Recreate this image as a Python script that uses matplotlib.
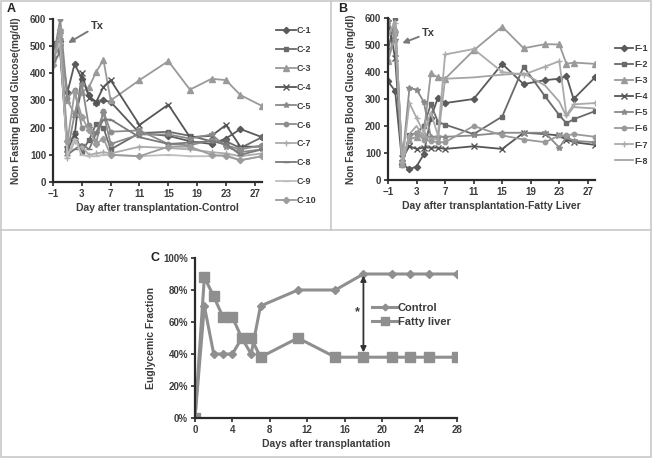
import numpy as np
import matplotlib
matplotlib.use("Agg")
import matplotlib.pyplot as plt
from matplotlib.lines import Line2D
from matplotlib.patches import Rectangle

plt.rcParams["font.family"] = ["Liberation Sans", "DejaVu Sans"]
plt.rcParams["font.weight"] = "bold"

TXT = "#3c3c3c"
AXC = "#2a2a2a"

# ---- panel A: control grafts ----
days_c = [-1, 0, 1, 2, 3, 4, 5, 6, 7, 11, 15, 18, 21, 23, 25, 28]
ctrl_names = ["C-1", "C-2", "C-3", "C-4", "C-5", "C-6", "C-7", "C-8", "C-9", "C-10"]
c1 = [500, 520, 330, 435, 380, 320, 290, 300, 295, 180, 170, 150, 140, 160, 195, 165]
c2 = [510, 480, 125, 180, 110, 155, 215, 200, 120, 180, 185, 170, 150, 150, 125, 165]
c3 = [470, 560, 300, 250, 330, 350, 405, 450, 300, 375, 445, 340, 380, 375, 320, 280]
c4 = [490, 520, 120, 170, 400, 310, 295, 350, 375, 210, 285, 165, 170, 210, 130, 130]
c5 = [460, 500, 110, 250, 360, 200, 180, 255, 140, 175, 175, 160, 175, 130, 110, 120]
c6 = [450, 600, 310, 340, 200, 210, 145, 260, 185, 190, 140, 135, 155, 135, 120, 135]
c7 = [440, 540, 90, 150, 130, 100, 105, 110, 105, 130, 125, 120, 110, 105, 95, 105]
c8 = [430, 480, 100, 120, 140, 120, 180, 230, 230, 165, 140, 145, 150, 140, 100, 120]
c9 = [470, 510, 95, 160, 100, 95, 95, 100, 100, 95, 100, 95, 95, 100, 80, 95]
c10 = [430, 560, 150, 330, 240, 190, 140, 160, 100, 95, 130, 130, 100, 95, 80, 95]
ctrl_vals = [c1, c2, c3, c4, c5, c6, c7, c8, c9, c10]
ctrl_colors = ["#5a5a5a", "#6a6a6a", "#9a9a9a", "#555555", "#8a8a8a",
               "#8c8c8c", "#ababab", "#7a7a7a", "#bdbdbd", "#9c9c9c"]
ctrl_markers = ["D", "s", "^", "x", "*", "o", "+", "_", "_", "D"]

# ---- panel B: fatty liver grafts ----
days_f = [-1, 0, 1, 2, 3, 4, 5, 6, 7, 11, 15, 18, 21, 23, 24, 25, 28]
fat_names = ["F-1", "F-2", "F-3", "F-4", "F-5", "F-6", "F-7", "F-8"]
f1 = [365, 330, 60, 40, 50, 95, 230, 305, 285, 300, 430, 355, 370, 375, 385, 300, 380]
f2 = [480, 600, 60, 165, 175, 200, 280, 215, 205, 170, 235, 420, 310, 240, 210, 225, 255]
f3 = [440, 560, 60, 150, 160, 170, 395, 380, 375, 480, 568, 488, 503, 502, 430, 435, 430]
f4 = [600, 450, 80, 125, 115, 120, 120, 120, 115, 125, 115, 175, 170, 165, 150, 140, 130]
f5 = [590, 520, 70, 340, 335, 290, 160, 160, 160, 165, 175, 175, 175, 120, 160, 145, 140]
f6 = [440, 540, 55, 160, 175, 150, 145, 140, 140, 200, 165, 150, 140, 165, 165, 170, 160]
f7 = [540, 580, 65, 285, 230, 175, 250, 165, 465, 485, 400, 390, 420, 440, 240, 280, 285]
f8 = [530, 590, 60, 170, 200, 160, 155, 150, 375, 380, 390, 395, 350, 290, 235, 270, 265]
fat_vals = [f1, f2, f3, f4, f5, f6, f7, f8]
fat_colors = ["#5a5a5a", "#6a6a6a", "#9a9a9a", "#555555", "#8a8a8a",
              "#999999", "#ababab", "#a5a5a5"]
fat_markers = ["D", "s", "^", "x", "*", "o", "+", ""]

# ---- panel C: euglycemic fraction ----
days_e = [0, 1, 2, 3, 4, 5, 6, 7, 11, 15, 18, 21, 23, 25, 28]
eug_control = [0, 70, 40, 40, 40, 50, 40, 70, 80, 80, 90, 90, 90, 90, 90]
eug_fatty = [0, 88, 76, 63, 63, 50, 50, 38, 50, 38, 38, 38, 38, 38, 38]


def px_axes(fig, left, top, right, bottom):
    W, H = 652.0, 458.0
    return fig.add_axes([left / W, 1 - bottom / H, (right - left) / W, (bottom - top) / H])


def style(ax):
    for s in ["top", "right"]:
        ax.spines[s].set_visible(False)
    for s in ["left", "bottom"]:
        ax.spines[s].set_color(AXC)
        ax.spines[s].set_linewidth(1.6)
    ax.tick_params(direction="out", length=3, width=1.2, color=AXC,
                   labelsize=7, labelcolor=TXT, pad=2)
    for lab in ax.get_xticklabels() + ax.get_yticklabels():
        lab.set_fontweight("bold")


def glucose_panel(ax, days, vals, names, colors, markers, xlabel, ylabel):
    for v, n, c, m in zip(vals, names, colors, markers):
        ms = 3.2 if m in ("D", "s", "o") else 4
        ax.plot(days, v, color=c, lw=1.3, marker=m if m else None,
                ms=ms, mew=1.0, label=n)
    ax.set_xlim(-1, 28)
    ax.set_ylim(0, 600)
    ax.set_xticks(np.arange(-1, 28, 4))
    ax.set_yticks(np.arange(0, 601, 100))
    ax.set_xlabel(xlabel, fontsize=7.5, color=TXT, fontweight="bold", labelpad=3)
    ax.set_ylabel(ylabel, fontsize=7.3, color=TXT, fontweight="bold", labelpad=6)
    style(ax)


fig = plt.figure(figsize=(6.52, 4.58), dpi=100)

# panel frames
fig.add_artist(Rectangle((0.002, 0.002), 0.996, 0.996, transform=fig.transFigure,
                         fill=False, ec="#c8c8c8", lw=1.2))
fig.add_artist(Line2D([0.002, 0.998], [1 - 230 / 458] * 2, transform=fig.transFigure,
                      color="#c8c8c8", lw=1.2))
fig.add_artist(Line2D([331 / 652] * 2, [1 - 230 / 458, 0.998], transform=fig.transFigure,
                      color="#c8c8c8", lw=1.2))

# A
axA = px_axes(fig, 53, 19, 262, 182)
glucose_panel(axA, days_c, ctrl_vals, ctrl_names, ctrl_colors, ctrl_markers,
              "Day after transplantation-Control", "Non Fasting Blood Glucose(mg/dl)")
axA.legend(loc="upper left", bbox_to_anchor=(1.05, 0.98), frameon=False,
           fontsize=6.5, labelcolor=TXT, handlelength=2.2, handletextpad=0.1,
           labelspacing=1.1, borderaxespad=0)
axA.annotate("Tx", xy=(1.1, 512), xytext=(4.2, 555), fontsize=8, color=TXT,
             fontweight="bold", va="bottom",
             arrowprops=dict(arrowstyle="-|>", color="#7a7a7a", lw=1.4,
                             mutation_scale=8, shrinkA=0, shrinkB=0))

# B
axB = px_axes(fig, 388, 18, 595, 180)
glucose_panel(axB, days_f, fat_vals, fat_names, fat_colors, fat_markers,
              "Day after transplantation-Fatty Liver", "Non Fasting Blood Glucose (mg/dl)")
axB.legend(loc="upper left", bbox_to_anchor=(1.08, 0.86), frameon=False,
           fontsize=6.5, labelcolor=TXT, handlelength=2.0, handletextpad=0.1,
           labelspacing=0.78, borderaxespad=0)
axB.annotate("Tx", xy=(1.0, 507), xytext=(3.7, 525), fontsize=8, color=TXT,
             fontweight="bold", va="bottom",
             arrowprops=dict(arrowstyle="-|>", color="#7a7a7a", lw=1.4,
                             mutation_scale=8, shrinkA=0, shrinkB=0))

# C
axC = px_axes(fig, 195, 258, 457, 418)
axC.plot(days_e, eug_control, color="#8f8f8f", lw=2.2, marker="D", ms=4.5,
         label="Control")
axC.plot(days_e, eug_fatty, color="#8f8f8f", lw=2.2, marker="s", ms=7,
         label="Fatty liver")
axC.set_xlim(0, 28)
axC.set_ylim(0, 100)
axC.set_xticks(np.arange(0, 29, 4))
axC.set_yticks(np.arange(0, 101, 20))
axC.set_yticklabels([f"{v}%" for v in range(0, 101, 20)])
axC.set_xlabel("Days after transplantation", fontsize=7.5, color=TXT,
               fontweight="bold", labelpad=3)
axC.set_ylabel("Euglycemic Fraction", fontsize=7.5, color=TXT,
               fontweight="bold", labelpad=5)
style(axC)
axC.legend(loc="center left", bbox_to_anchor=(0.66, 0.645), frameon=False,
           fontsize=8, labelcolor=TXT, handlelength=2.3, handletextpad=0.0,
           labelspacing=0.4, borderaxespad=0, markerscale=0.75)
axC.annotate("", xy=(18, 89), xytext=(18, 41),
             arrowprops=dict(arrowstyle="<|-|>", color="#333333", lw=1.3,
                             mutation_scale=8, shrinkA=0, shrinkB=0))
axC.text(17.4, 66, "*", fontsize=9, color=TXT, ha="center", va="center")

fig.text(11 / 652, 1 - 9 / 458, "A", fontsize=9, fontweight="bold", color="#222222",
         ha="center", va="center")
fig.text(343 / 652, 1 - 9 / 458, "B", fontsize=9, fontweight="bold", color="#222222",
         ha="center", va="center")
fig.text(155 / 652, 1 - 258 / 458, "C", fontsize=9, fontweight="bold", color="#222222",
         ha="center", va="center")

fig.savefig("out.png", dpi=100)
